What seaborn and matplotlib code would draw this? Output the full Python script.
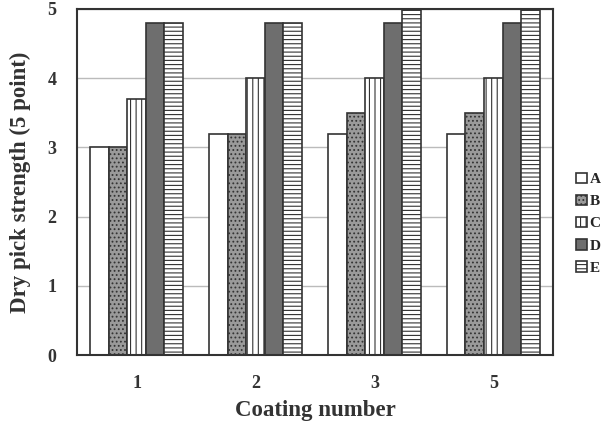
import pandas as pd
import numpy as np
import matplotlib
matplotlib.use("Agg")
import matplotlib.pyplot as plt
import seaborn as sns

coatings = ["1", "2", "3", "5"]
series = ["A", "B", "C", "D", "E"]
vals_A = [3.0, 3.2, 3.2, 3.2]
vals_B = [3.0, 3.2, 3.5, 3.5]
vals_C = [3.7, 4.0, 4.0, 4.0]
vals_D = [4.8, 4.8, 4.8, 4.8]
vals_E = [4.8, 4.8, 5.0, 5.0]

rows = []
for s, v in zip(series, [vals_A, vals_B, vals_C, vals_D, vals_E]):
    for c, y in zip(coatings, v):
        rows.append({"Coating": c, "Series": s, "Value": y})
df = pd.DataFrame(rows)

sns.set_style("white")
plt.rcParams['font.family'] = ['Liberation Serif', 'DejaVu Serif']
plt.rcParams['hatch.linewidth'] = 0.8

fig, ax = plt.subplots(figsize=(6.08, 4.44), dpi=100)
sns.barplot(data=df, x="Coating", y="Value", hue="Series", ax=ax,
            width=0.78, gap=0, edgecolor="#333333", linewidth=1.2)

styles = {
    "A": ("white", ""),
    "B": ("#9a9a9a", "...."),
    "C": ("white", "|||"),
    "D": ("#6e6e6e", ""),
    "E": ("white", "----"),
}
for cont, s in zip(ax.containers, series):
    fc, h = styles[s]
    for p in cont:
        p.set_facecolor(fc)
        p.set_hatch(h)
        p.set_edgecolor("#333333")

ax.set_ylim(0, 5)
ax.set_yticks([0, 1, 2, 3, 4, 5])
ax.yaxis.grid(True, color="#bbbbbb", linewidth=1.0)
ax.set_axisbelow(True)
for sp in ax.spines.values():
    sp.set_color("#333333")
    sp.set_linewidth(1.5)

ax.set_xlabel("Coating number", fontsize=16.5, fontweight="bold", color="#333333", labelpad=6)
ax.set_ylabel("Dry pick strength (5 point)", fontsize=16.5, fontweight="bold", color="#333333", labelpad=12)
ax.tick_params(axis="x", labelsize=13, colors="#333333", length=0, pad=14)
ax.tick_params(axis="y", labelsize=13, colors="#333333", length=0, pad=15)
for t in ax.get_xticklabels() + ax.get_yticklabels():
    t.set_fontweight("bold")

handles, labels = ax.get_legend_handles_labels()
for hnd, s in zip(handles, series):
    fc, h = styles[s]
    hnd.set_facecolor(fc)
    hnd.set_hatch(h)
    hnd.set_edgecolor("#333333")
ax.legend(handles, labels, loc="center left", bbox_to_anchor=(1.02, 0.38),
          frameon=False, handlelength=0.7, handleheight=0.7, handletextpad=0.2,
          labelspacing=0.55, prop={"weight": "bold", "size": 11})

fig.subplots_adjust(left=0.127, right=0.909, top=0.98, bottom=0.2)
fig.savefig("out.png", dpi=100)
